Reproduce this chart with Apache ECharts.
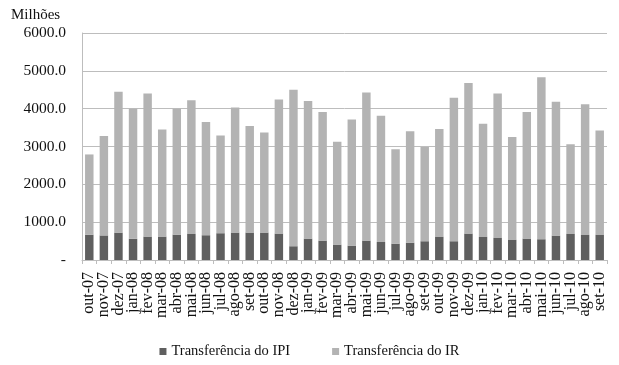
<!DOCTYPE html>
<html>
<head>
<meta charset="utf-8">
<script src="https://cdn.jsdelivr.net/npm/echarts@6/dist/echarts.min.js"></script>
<style>html,body{margin:0;padding:0;background:#fff}#c{width:619px;height:365px}</style>
</head>
<body>
<div id="c"></div>
<script>
const categories = ['out-07','nov-07','dez-07','jan-08','fev-08','mar-08','abr-08','mai-08','jun-08','jul-08','ago-08','set-08','out-08','nov-08','dez-08','jan-09','fev-09','mar-09','abr-09','mai-09','jun-09','jul-09','ago-09','set-09','out-09','nov-09','dez-09','jan-10','fev-10','mar-10','abr-10','mai-10','jun-10','jul-10','ago-10','set-10'];
const totals = [2790,3275,4450,4000,4400,3450,4000,4220,3645,3290,4030,3540,3370,4240,4500,4200,3910,3125,3715,4430,3815,2930,3405,2990,3460,4290,4680,3600,4400,3250,3910,4830,4180,3060,4120,3425];
const ipi = [670,650,725,565,620,620,670,690,655,708,726,726,726,700,364,567,514,408,381,514,478,434,460,496,611,496,700,611,584,531,567,549,646,690,664,664];
const ir = totals.map((t,i)=>t-ipi[i]);
const yTicks = [0,1000,2000,3000,4000,5000,6000];

const chart = echarts.init(document.getElementById('c'));
const serif = '"Liberation Serif", "Times New Roman", serif';
chart.setOption({
  animation:false,
  textStyle:{fontFamily:serif},
  title:{text:'Milhões',left:6,top:3,textStyle:{fontFamily:serif,fontSize:15,fontWeight:'normal',color:'#111'}},
  legend:{bottom:1,left:'center',itemWidth:7,itemHeight:7,itemGap:42,icon:'rect',
    textStyle:{fontFamily:serif,fontSize:14.5,color:'#111'},
    data:['Transferência do IPI','Transferência do IR']},
  grid:{left:82,right:12,top:33,bottom:105},
  xAxis:{type:'category',data:categories,
    axisLine:{lineStyle:{color:'#bdbdbd'}},
    axisTick:{show:true,lineStyle:{color:'#bdbdbd'},length:4},
    axisLabel:{rotate:90,fontFamily:serif,fontSize:16,color:'#111',margin:12,interval:0}},
  yAxis:{type:'value',min:0,max:6000,interval:1000,
    axisLine:{show:true,lineStyle:{color:'#bdbdbd'}},
    axisTick:{show:false},
    splitLine:{lineStyle:{color:'#bdbdbd'}},
    axisLabel:{fontFamily:serif,fontSize:15.5,color:'#111',margin:16,
      formatter:v=> v===0 ? '-' : v.toFixed(1)}},
  series:[
    {name:'Transferência do IPI',type:'bar',stack:'t',data:ipi,barWidth:'58%',itemStyle:{color:'#5f5f5f'}},
    {name:'Transferência do IR',type:'bar',stack:'t',data:ir,barWidth:'58%',itemStyle:{color:'#b3b3b3'}}
  ]
});
</script>
</body>
</html>
